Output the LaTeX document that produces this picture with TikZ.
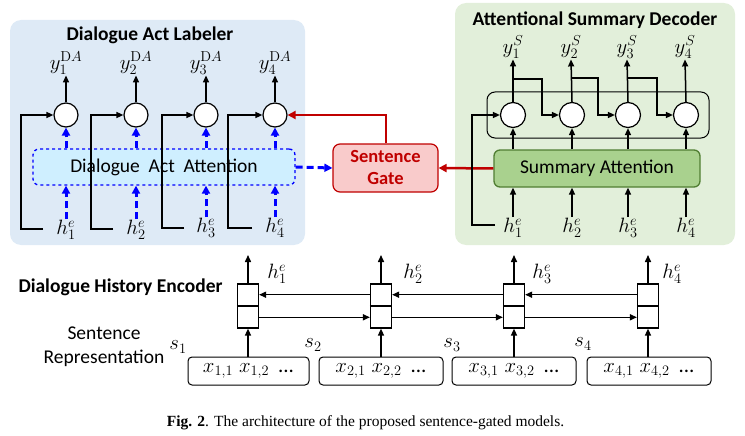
\documentclass[tikz,border=0pt]{standalone}
\usepackage[no-math]{fontspec}
\setmainfont{Carlito}
\newfontfamily\capfont{Liberation Serif}
\usetikzlibrary{arrows.meta,calc}
\definecolor{dabg}{HTML}{DEEAF6}
\definecolor{sdbg}{HTML}{E2EFDA}
\definecolor{attfill}{HTML}{CFEFFF}
\definecolor{gatefill}{HTML}{F9CBCB}
\definecolor{gatered}{HTML}{C00000}
\definecolor{safill}{HTML}{A9D18E}
\definecolor{saborder}{HTML}{507E32}
\definecolor{dablue}{HTML}{0000FF}
\tikzset{
  panel/.style={rectangle, rounded corners=11pt, draw=none, inner sep=0pt},
  ttl/.style={font=\fontsize{19.5}{22}\selectfont\bfseries},
  txt/.style={font=\fontsize{19.5}{22}\selectfont},
  lbl/.style={font=\fontsize{22}{25}\selectfont, inner sep=1pt},
  cell/.style={circle, draw, line width=1.2pt, fill=white, minimum size=24pt, inner sep=0pt},
  arr/.style={-{Triangle[length=7pt,width=6pt]}, line width=1.5pt},
  bluearr/.style={dablue, line width=3pt, dash pattern=on 7pt off 4pt, -{Triangle[length=8pt,width=8pt]}},
  redarr/.style={gatered, line width=2.5pt, -{Triangle[length=8pt,width=8pt]}},
  enc/.style={rectangle, draw, line width=1.2pt, fill=white, minimum width=21pt, minimum height=44pt, inner sep=0pt},
  xbox/.style={rectangle, draw, line width=1pt, rounded corners=4pt, minimum height=28pt, inner sep=0pt, font=\fontsize{21}{24}\selectfont},
}
\begin{document}
\begin{tikzpicture}[x=1pt,y=-1pt]
\useasboundingbox (0,0) rectangle (745,436);
% panels
\node[panel, fill=dabg, minimum width=295pt, minimum height=225pt] (dapanel) at (157.5,132.5) {};
\node[panel, fill=sdbg, minimum width=280pt, minimum height=242pt] (sdpanel) at (595,124) {};
\node[ttl] (datitle) at (150,35) {Dialogue Act Labeler};
\node[ttl] (sdtitle) at (595,20) {Attentional Summary Decoder};

% ---------- Dialogue act labeler ----------
\node[rectangle, rounded corners=6pt, draw=dablue, dashed, line width=1.3pt, fill=attfill,
      minimum width=262pt, minimum height=36pt, txt] (att) at (164,167)
      {Dialogue\ \ Act\ \ Attention};
\foreach \i/\x/\hy in {1/66/230, 2/136/230, 3/206/228, 4/275/228}{
  \node[cell] (dc\i) at (\x,115) {};
  \node[lbl] (dy\i) at (\x,63) {$y_{\i}^{\mathrm{D}A}$};
  \node[lbl] (dh\i) at (\x,\hy) {$h_{\i}^{e}$};
  \draw[arr] (dc\i.north) -- (dy\i.south);
  \draw[bluearr] (dh\i.north) -- (dh\i.north |- att.south);
  \draw[bluearr] (att.north -| dc\i) -- (dc\i.south);
}
\coordinate (ds1) at (43,229);  \coordinate (dk1) at (21,229);
\coordinate (ds2) at (113,229); \coordinate (dk2) at (91,229);
\coordinate (ds3) at (184,228); \coordinate (dk3) at (162,228);
\coordinate (ds4) at (252,228); \coordinate (dk4) at (228,228);
\foreach \i in {1,2,3,4}{
  \draw[arr] (ds\i) -- (dk\i) |- (dc\i.west);
}

% ---------- Sentence gate ----------
\node[rectangle, rounded corners=7pt, draw=gatered, line width=1.2pt, fill=gatefill,
      minimum width=105pt, minimum height=48pt, align=center, text=gatered,
      font=\fontsize{18.5}{22}\selectfont\bfseries] (gate) at (385.5,168) {Sentence\\Gate};
\draw[bluearr] (att.east) -- (gate.west);
\coordinate (gk) at (386,115);
\draw[redarr] (gate.north -| gk) -- (gk) -- (dc4.east);

% ---------- Summary decoder ----------
\node[rectangle, rounded corners=8pt, draw, line width=1pt, minimum width=222pt, minimum height=46pt] (frame) at (598,115) {};
\node[rectangle, rounded corners=6pt, draw=saborder, line width=1.3pt, fill=safill,
      minimum width=206pt, minimum height=37pt, txt] (sa) at (597,168.5) {Summary Attention};
\foreach \i/\x/\yx in {1/513/513, 2/572/571, 3/628/627, 4/686/685}{
  \node[cell, minimum size=25pt] (sc\i) at (\x,115) {};
  \node[lbl] (sy\i) at (\yx,47) {$y_{\i}^{S}$};
  \node[lbl] (sh\i) at (\x,228) {$h_{\i}^{e}$};
  \draw[arr] (sc\i.north) -- (sy\i.south);
  \draw[arr] (sa.north -| sc\i) -- (sc\i.south);
  \draw[arr] (sh\i.north) -- (sh\i.north |- sa.south);
}
\draw[redarr] (sa.west) -- (gate.east);
\coordinate (sb1) at (513,79); \coordinate (sk1) at (542,79);
\coordinate (sb2) at (572,78); \coordinate (sk2) at (598,78);
\coordinate (sb3) at (628,78); \coordinate (sk3) at (657,78);
\draw[arr] (sb1) -- (sk1) |- (sc2.west);
\draw[arr] (sb2) -- (sk2) |- (sc3.west);
\draw[arr] (sb3) -- (sk3) |- (sc4.west);
\coordinate (ss1) at (495,225); \coordinate (sk0) at (472,225);
\draw[arr] (ss1) -- (sk0) |- (sc1.west);

% ---------- Dialogue history encoder ----------
\node[ttl, anchor=west] (dhe) at (15,287) {Dialogue History Encoder};
\node[txt] (sent) at (104,333) {Sentence};
\node[txt] (repr) at (104,358) {Representation};
\foreach \i/\x/\bx/\bw/\sx/\sy/\hx in {1/248/248.5/121/178/347/277, 2/381/381/124/313/345/413, 3/514/514/124/452/345/542, 4/648/649/124/583/344/672}{
  \node[enc] (e\i) at (\x,306) {};
  \draw[line width=1.2pt] (e\i.west) -- (e\i.east);
  \coordinate (eu\i) at (\x,255);
  \draw[arr] (e\i.north) -- (eu\i);
  \node[lbl] (eh\i) at (\hx,274) {$h_{\i}^{e}$};
  \node[xbox, minimum width=\bw pt] (xb\i) at (\bx,371) {$x_{\i,1}$\hspace{6pt}$x_{\i,2}$\hspace{9pt}...};
  \draw[arr] (xb\i.north -| e\i) -- (e\i.south);
  \node[lbl] (s\i) at (\sx,\sy) {$s_{\i}$};
}
\foreach \a/\b in {1/2,2/3,3/4}{
  \draw[arr] ($(e\b.north west)!.25!(e\b.south west)$) -- ($(e\a.north east)!.25!(e\a.south east)$);
  \draw[arr] ($(e\a.north east)!.75!(e\a.south east)$) -- ($(e\b.north west)!.75!(e\b.south west)$);
}

% caption
\node[font=\capfont\fontsize{15.5}{18}\selectfont] (cap) at (365.5,423) {\textbf{Fig. 2}. The architecture of the proposed sentence-gated models.};
\end{tikzpicture}
\end{document}
